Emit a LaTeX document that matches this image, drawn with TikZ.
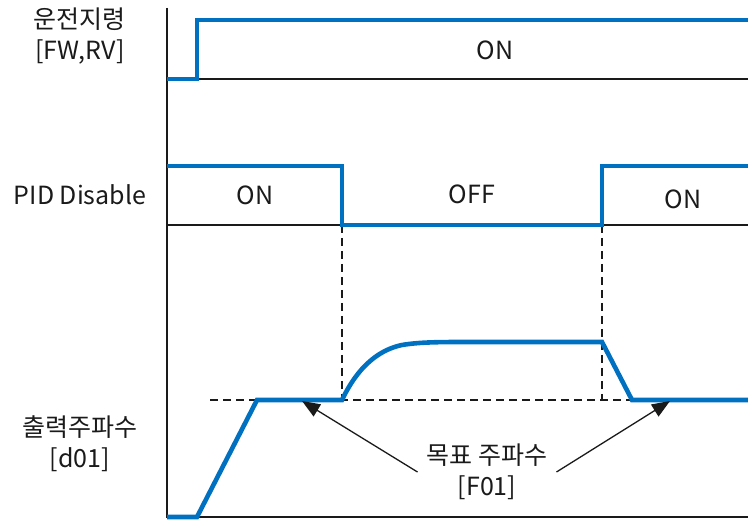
\documentclass[tikz,border=0pt]{standalone}
\usepackage{fontspec}
\setmainfont{Noto Sans CJK KR}
\usetikzlibrary{arrows.meta}
\definecolor{sigblue}{HTML}{0070C0}
\definecolor{ink}{HTML}{1A1A1A}

\begin{document}
\begin{tikzpicture}[
  x=1pt,y=-1pt,
  font=\fontsize{25}{31}\selectfont,
  lbl/.style={align=center,text=ink,inner sep=0pt},
  axis/.style={draw=ink,line width=1.4pt},
  sig/.style={draw=sigblue,line width=4.6pt,line join=miter},
  guide/.style={draw=ink,line width=1.3pt,dash pattern=on 8pt off 5pt},
  arr/.style={-{Triangle[length=18pt,width=14pt]},line width=1.3pt,draw=ink}
]
\useasboundingbox (0,0) rectangle (748,521);
% axes
\draw[axis] (167,8) -- (167,517) -- (748,517);
\draw[axis] (167,79) -- (748,79);
\draw[axis] (167,225) -- (748,225);
% guide lines
\draw[guide] (210,400) -- (632,400);
\draw[guide] (342,225) -- (342,400);
\draw[guide] (602,225) -- (602,400);
% signals
\draw[sig] (167,79) -- (197,79) -- (197,20) -- (748,20);
\draw[sig] (167,166) -- (342,166) -- (342,225) -- (602,225) -- (602,166) -- (748,166);
\draw[sig] (167,517) -- (197,517) -- (257,400) -- (342,400)
  .. controls (360,362) and (383,349) .. (402,345)
  .. controls (420,342) and (440,342) .. (470,342) -- (602,342)
  -- (632,400) -- (748,400);
% row labels
\node[lbl] (run) at (80,36) {운전지령\\{[FW,RV]}};
\node[lbl] (pid) at (80,195) {PID Disable};
\node[lbl] (out) at (80,444) {출력주파수\\{[d01]}};
% state labels
\node[lbl] (runon) at (495,50) {ON};
\node[lbl] (pidon) at (255,195) {ON};
\node[lbl] (pidoff) at (472,194) {OFF};
\node[lbl] (pidon2) at (683,199) {ON};
% target frequency
\node[lbl,inner xsep=9pt] (fref) at (487,472) {목표 주파수\\{[F01]}};
\coordinate (tgtL) at (302,401);
\coordinate (tgtR) at (670,401);
\draw[arr] (fref.west) -- (tgtL);
\draw[arr] (fref.east) -- (tgtR);
\end{tikzpicture}
\end{document}
